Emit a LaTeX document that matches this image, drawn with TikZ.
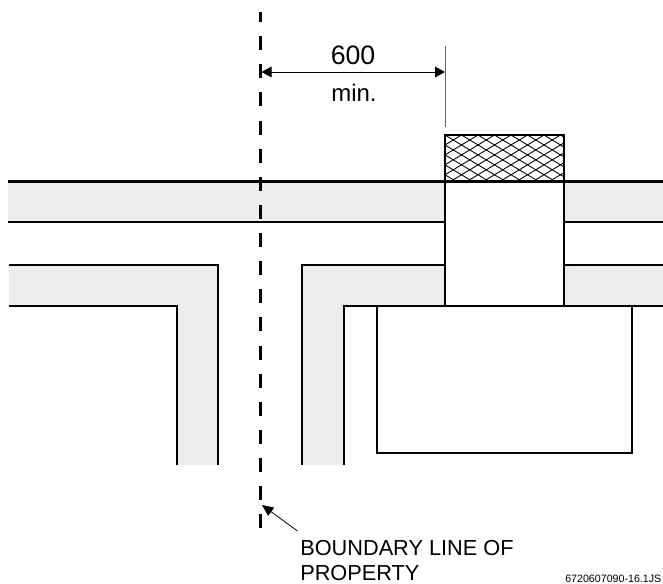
\documentclass[tikz,border=0pt]{standalone}
\usepackage{fontspec}
\setmainfont{Liberation Sans}
\usetikzlibrary{patterns,arrows.meta}
\definecolor{duct}{HTML}{ECEDEF}
\tikzset{
  heavy/.style={line width=2.2pt,line cap=butt,line join=miter},
  mid/.style={line width=1.8pt,line join=miter},
  med/.style={line width=1.7pt,line join=miter},
  lab/.style={inner sep=0pt,anchor=base west,font=\fontsize{16.3pt}{18pt}\selectfont},
  dim/.style={line width=0.6pt,{Triangle[length=7.5pt,width=8pt]}-{Triangle[length=7.5pt,width=8pt]}},
  lead/.style={line width=0.6pt,-{Triangle[length=8.5pt,width=7.5pt]}}
}
\begin{document}
\begin{tikzpicture}[x=0.75pt,y=-0.75pt]
\useasboundingbox (0,0) rectangle (663,583);
\clip (0,0) rectangle (663,583);
% grey bands
\fill[duct] (8,181.5) rectangle (445,222);
\fill[duct] (564,181.5) rectangle (663,222);
\fill[duct] (9,265) -- (218,265) -- (218,465) -- (177,465) -- (177,306) -- (9,306) -- cycle;
\fill[duct] (302,465) -- (302,265) -- (445,265) -- (445,306) -- (344,306) -- (344,465) -- cycle;
\fill[duct] (564,265) rectangle (663,306);
% hatched cap
\begin{scope}
\clip (445,135) rectangle (564,182);
\foreach \k in {-6,...,16}{
  \draw[line width=0.65pt] (445+\k*16.5,135) -- ++(78,47);
  \draw[line width=0.65pt] (445+\k*16.5,135) -- ++(-78,47);
}
\end{scope}
\draw[heavy] (445,135) rectangle (564,181.5);
% lines
\draw[heavy] (8,181.5) -- (445,181.5);
\draw[heavy] (564,181.5) -- (663,181.5);
\draw[mid] (8,222) -- (445,222);
\draw[mid] (564,222) -- (663,222);
\draw[med] (9,265) -- (218,265) -- (218,465);
\draw[med] (9,306) -- (177,306) -- (177,465);
\draw[med] (302,465) -- (302,265) -- (445,265);
\draw[med] (344,465) -- (344,306) -- (445,306);
\draw[med] (564,265) -- (663,265);
\draw[med] (564,306) -- (663,306);
\draw[med] (445,181.5) -- (445,306) -- (564,306) -- (564,181.5);
\draw[med] (377,306) rectangle (632,453);
% boundary line
\coordinate (bt) at (260.5,12);
\coordinate (bb) at (260.5,528);
\draw[line width=1.8pt,dash pattern=on 10.5pt off 10.6pt,dash phase=3pt] (bt) -- (bb);
% dimension
\coordinate (dl) at (261.5,72);
\coordinate (dr) at (445,72);
\draw[dim] (dl) -- (dr);
\coordinate (wt) at (445,46);
\coordinate (wb) at (445,127);
\draw[line width=0.7pt,black!60] (wt) -- (wb);
\node[lab,font=\fontsize{20pt}{22pt}\selectfont] (six) at (330.5,64.5) {600};
\node[lab,font=\fontsize{18pt}{20pt}\selectfont] (mn) at (331,101) {min.};
% label
\node[lab] (bl1) at (300,555.7) {BOUNDARY LINE OF};
\node[lab] (bl2) at (300,580.5) {PROPERTY};
\node[inner sep=0pt,anchor=base west,font=\fontsize{8pt}{9pt}\selectfont] (code) at (565,582.5) {6720607090-16.1JS};
\coordinate (ls) at (297.5,531);
\coordinate (le) at (262,505);
\draw[lead] (ls) -- (le);
\end{tikzpicture}
\end{document}
